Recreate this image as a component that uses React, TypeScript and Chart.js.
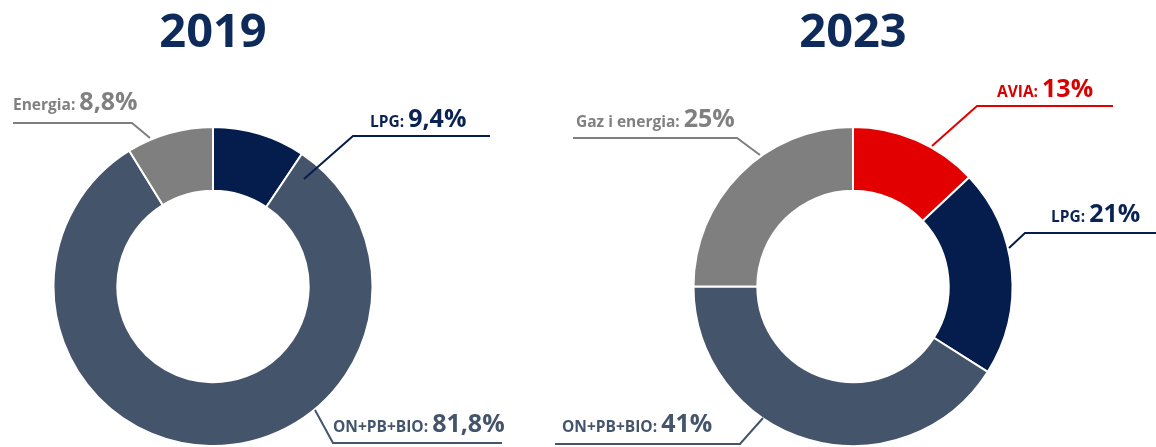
import React, { useEffect, useRef } from "react";
import { Chart, registerables } from "chart.js";

Chart.register(...registerables);

// ---- data ----
const YEARS = ["2019", "2023"];
const CATEGORIES_2019 = ["LPG", "ON+PB+BIO", "Energia"];
const VALUES_2019 = [9.4, 81.8, 8.8];
const CATEGORIES_2023 = ["AVIA", "LPG", "ON+PB+BIO", "Gaz i energia"];
const VALUES_2023 = [13, 21, 41, 25];

// ---- styles ----
const COLORS: Record<string, string> = {
  AVIA: "#e30000",
  LPG: "#051d4c",
  "ON+PB+BIO": "#44546a",
  Energia: "#7f7f7f",
  "Gaz i energia": "#7f7f7f",
};
const TEXT_COLORS: Record<string, string> = {
  AVIA: "#d90000",
  LPG: "#0b2352",
  "ON+PB+BIO": "#44546a",
  Energia: "#808080",
  "Gaz i energia": "#808080",
};
const TITLE_COLOR = "#0d2a5b";
const FONT = "'Open Sans', 'DejaVu Sans', sans-serif";

type Ann = { tx: number; ty: number; line: number[][] };

// annotation layout (page pixels), by category index
const ANN_2019: Ann[] = [
  { tx: 370, ty: 127, line: [[490, 136], [353, 136], [304, 179]] },
  { tx: 333, ty: 432, line: [[315, 410], [333, 443], [502, 443]] },
  { tx: 13, ty: 110, line: [[13, 123], [132, 123], [150, 138]] },
];
const ANN_2023: Ann[] = [
  { tx: 997, ty: 97, line: [[1113, 106], [977, 106], [932, 146]] },
  { tx: 1051, ty: 222, line: [[1156, 233], [1025, 233], [1009, 248]] },
  { tx: 562, ty: 432, line: [[555, 444], [740, 444], [763, 418]] },
  { tx: 576, ty: 127, line: [[573, 138], [737, 138], [760, 155]] },
];

const fmt = (v: number) => v.toString().replace(".", ",") + "%";

function makeChart(
  canvas: HTMLCanvasElement,
  title: string,
  cats: string[],
  vals: number[],
  anns: Ann[],
  padding: { left: number; right: number; top: number; bottom: number }
) {
  const annotate = {
    id: "annotate" + title,
    afterDraw(chart: any) {
      const ctx = chart.ctx as CanvasRenderingContext2D;
      const meta = chart.getDatasetMeta(0);
      const cx = meta.data[0].x;
      ctx.save();
      // title
      ctx.fillStyle = TITLE_COLOR;
      ctx.font = `bold 47px ${FONT}`;
      ctx.textAlign = "center";
      ctx.textBaseline = "alphabetic";
      ctx.fillText(title, cx, 47);
      // labels
      ctx.textAlign = "left";
      cats.forEach((c, i) => {
        const a = anns[i];
        ctx.strokeStyle = COLORS[c];
        ctx.lineWidth = 2;
        ctx.beginPath();
        a.line.forEach((p, j) => (j === 0 ? ctx.moveTo(p[0], p[1]) : ctx.lineTo(p[0], p[1])));
        ctx.stroke();
        ctx.fillStyle = TEXT_COLORS[c];
        ctx.font = `bold 15.5px ${FONT}`;
        const name = c + ": ";
        ctx.fillText(name, a.tx, a.ty);
        const w = ctx.measureText(name).width;
        ctx.font = `bold 25px ${FONT}`;
        ctx.fillText(fmt(vals[i]), a.tx + w, a.ty);
      });
      ctx.restore();
    },
  };
  return new Chart(canvas, {
    type: "doughnut",
    data: {
      labels: cats,
      datasets: [
        {
          data: vals,
          backgroundColor: cats.map((c) => COLORS[c]),
          borderColor: "#ffffff",
          borderWidth: 2,
        },
      ],
    },
    options: {
      responsive: false,
      animation: false,
      cutout: "60%",
      layout: { padding },
      plugins: { legend: { display: false }, tooltip: { enabled: false } },
    },
    plugins: [annotate],
  });
}

export default function App() {
  const ref1 = useRef<HTMLCanvasElement>(null);
  const ref2 = useRef<HTMLCanvasElement>(null);
  useEffect(() => {
    const c1 = makeChart(ref1.current!, YEARS[0], CATEGORIES_2019, VALUES_2019, ANN_2019, {
      left: 52, right: 782, top: 126, bottom: 0,
    });
    const c2 = makeChart(ref2.current!, YEARS[1], CATEGORIES_2023, VALUES_2023, ANN_2023, {
      left: 692, right: 142, top: 126, bottom: 0,
    });
    return () => {
      c1.destroy();
      c2.destroy();
    };
  }, []);
  const cs: React.CSSProperties = { position: "absolute", left: 0, top: 0, display: "block" };
  return (
    <div style={{ position: "fixed", left: 0, top: 0, width: 1156, height: 447, background: "#fff", overflow: "hidden" }}>
      <canvas ref={ref1} width={1156} height={447} style={cs} />
      <canvas ref={ref2} width={1156} height={447} style={cs} />
    </div>
  );
}
